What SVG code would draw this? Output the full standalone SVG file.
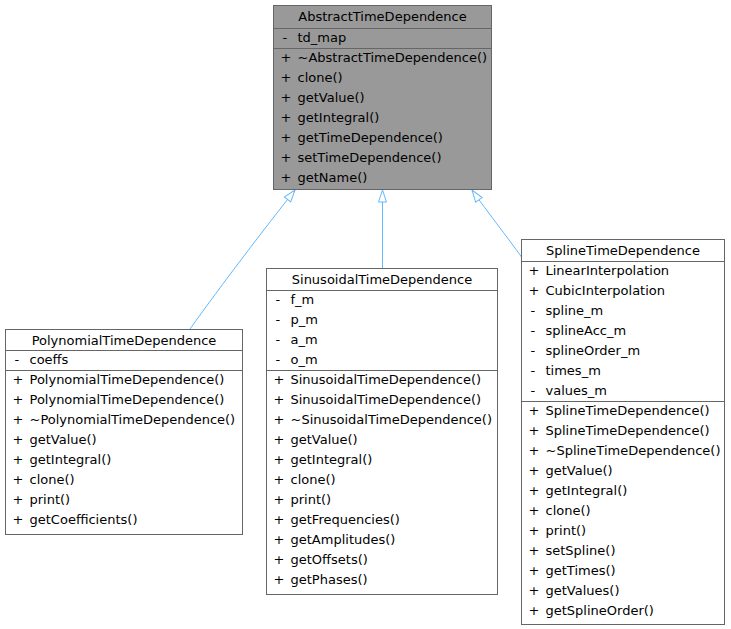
<svg xmlns="http://www.w3.org/2000/svg" width="731" height="629" viewBox="0 0 731 629">
<style>
.box{fill:#ffffff;stroke:#666666;stroke-width:1}
.abs{fill:#999999}
.sep{stroke:#666666;stroke-width:1}
text{font-family:"DejaVu Sans","Liberation Sans",sans-serif;font-size:13px;fill:#000000}
.t{text-anchor:middle}
.edge{fill:none;stroke:#63b8ff;stroke-width:1}
</style>
<defs>
<marker id="inh" markerUnits="userSpaceOnUse" markerWidth="14" markerHeight="10" viewBox="0 0 14 10" refX="13" refY="5" orient="auto">
<path d="M1,1 L13,5 L1,9 z" fill="#ffffff" stroke="#63b8ff" stroke-width="1"/>
</marker>
</defs>
<rect width="731" height="629" fill="#ffffff"/>
<g id="connectors">
<path class="edge" d="M190,329 C222,284 265,228 295,190" marker-end="url(#inh)"/>
<path class="edge" d="M382.5,268.5 L382.5,190" marker-end="url(#inh)"/>
<path class="edge" d="M521.5,257 C508,238 486,210 472,190" marker-end="url(#inh)"/>
</g>
<g id="AbstractTimeDependence">
<rect class="box abs" x="273.5" y="5.5" width="218" height="184"/>
<line class="sep" x1="273.5" y1="28.5" x2="491.5" y2="28.5"/>
<line class="sep" x1="273.5" y1="48.5" x2="491.5" y2="48.5"/>
<text class="t" x="382.5" y="21">AbstractTimeDependence</text>
<text y="42"><tspan x="282.5">-</tspan><tspan x="297.5">td_map</tspan></text>
<text y="62"><tspan x="280.5">+</tspan><tspan x="297.5">~AbstractTimeDependence()</tspan></text>
<text y="82"><tspan x="280.5">+</tspan><tspan x="297.5">clone()</tspan></text>
<text y="102"><tspan x="280.5">+</tspan><tspan x="297.5">getValue()</tspan></text>
<text y="122"><tspan x="280.5">+</tspan><tspan x="297.5">getIntegral()</tspan></text>
<text y="142"><tspan x="280.5">+</tspan><tspan x="297.5">getTimeDependence()</tspan></text>
<text y="162"><tspan x="280.5">+</tspan><tspan x="297.5">setTimeDependence()</tspan></text>
<text y="182"><tspan x="280.5">+</tspan><tspan x="297.5">getName()</tspan></text>
</g>
<g id="PolynomialTimeDependence">
<rect class="box" x="5.5" y="329.5" width="237" height="205"/>
<line class="sep" x1="5.5" y1="350.5" x2="242.5" y2="350.5"/>
<line class="sep" x1="5.5" y1="370.5" x2="242.5" y2="370.5"/>
<text class="t" x="124" y="345">PolynomialTimeDependence</text>
<text y="364"><tspan x="14.5">-</tspan><tspan x="29.5">coeffs</tspan></text>
<text y="384"><tspan x="12.5">+</tspan><tspan x="29.5">PolynomialTimeDependence()</tspan></text>
<text y="404"><tspan x="12.5">+</tspan><tspan x="29.5">PolynomialTimeDependence()</tspan></text>
<text y="424"><tspan x="12.5">+</tspan><tspan x="29.5">~PolynomialTimeDependence()</tspan></text>
<text y="444"><tspan x="12.5">+</tspan><tspan x="29.5">getValue()</tspan></text>
<text y="464"><tspan x="12.5">+</tspan><tspan x="29.5">getIntegral()</tspan></text>
<text y="484"><tspan x="12.5">+</tspan><tspan x="29.5">clone()</tspan></text>
<text y="504"><tspan x="12.5">+</tspan><tspan x="29.5">print()</tspan></text>
<text y="524"><tspan x="12.5">+</tspan><tspan x="29.5">getCoefficients()</tspan></text>
</g>
<g id="SinusoidalTimeDependence">
<rect class="box" x="266.5" y="268.5" width="231" height="326"/>
<line class="sep" x1="266.5" y1="290.5" x2="497.5" y2="290.5"/>
<line class="sep" x1="266.5" y1="370.5" x2="497.5" y2="370.5"/>
<text class="t" x="382" y="284">SinusoidalTimeDependence</text>
<text y="304"><tspan x="275.5">-</tspan><tspan x="290.5">f_m</tspan></text>
<text y="324"><tspan x="275.5">-</tspan><tspan x="290.5">p_m</tspan></text>
<text y="344"><tspan x="275.5">-</tspan><tspan x="290.5">a_m</tspan></text>
<text y="364"><tspan x="275.5">-</tspan><tspan x="290.5">o_m</tspan></text>
<text y="384"><tspan x="273.5">+</tspan><tspan x="290.5">SinusoidalTimeDependence()</tspan></text>
<text y="404"><tspan x="273.5">+</tspan><tspan x="290.5">SinusoidalTimeDependence()</tspan></text>
<text y="424"><tspan x="273.5">+</tspan><tspan x="290.5">~SinusoidalTimeDependence()</tspan></text>
<text y="444"><tspan x="273.5">+</tspan><tspan x="290.5">getValue()</tspan></text>
<text y="464"><tspan x="273.5">+</tspan><tspan x="290.5">getIntegral()</tspan></text>
<text y="484"><tspan x="273.5">+</tspan><tspan x="290.5">clone()</tspan></text>
<text y="504"><tspan x="273.5">+</tspan><tspan x="290.5">print()</tspan></text>
<text y="524"><tspan x="273.5">+</tspan><tspan x="290.5">getFrequencies()</tspan></text>
<text y="544"><tspan x="273.5">+</tspan><tspan x="290.5">getAmplitudes()</tspan></text>
<text y="564"><tspan x="273.5">+</tspan><tspan x="290.5">getOffsets()</tspan></text>
<text y="584"><tspan x="273.5">+</tspan><tspan x="290.5">getPhases()</tspan></text>
</g>
<g id="SplineTimeDependence">
<rect class="box" x="521.5" y="239.5" width="203" height="385"/>
<line class="sep" x1="521.5" y1="261.5" x2="724.5" y2="261.5"/>
<line class="sep" x1="521.5" y1="401.5" x2="724.5" y2="401.5"/>
<text class="t" x="623" y="255">SplineTimeDependence</text>
<text y="275"><tspan x="528.5">+</tspan><tspan x="545.5">LinearInterpolation</tspan></text>
<text y="295"><tspan x="528.5">+</tspan><tspan x="545.5">CubicInterpolation</tspan></text>
<text y="315"><tspan x="530.5">-</tspan><tspan x="545.5">spline_m</tspan></text>
<text y="335"><tspan x="530.5">-</tspan><tspan x="545.5">splineAcc_m</tspan></text>
<text y="355"><tspan x="530.5">-</tspan><tspan x="545.5">splineOrder_m</tspan></text>
<text y="375"><tspan x="530.5">-</tspan><tspan x="545.5">times_m</tspan></text>
<text y="395"><tspan x="530.5">-</tspan><tspan x="545.5">values_m</tspan></text>
<text y="415"><tspan x="528.5">+</tspan><tspan x="545.5">SplineTimeDependence()</tspan></text>
<text y="435"><tspan x="528.5">+</tspan><tspan x="545.5">SplineTimeDependence()</tspan></text>
<text y="455"><tspan x="528.5">+</tspan><tspan x="545.5">~SplineTimeDependence()</tspan></text>
<text y="475"><tspan x="528.5">+</tspan><tspan x="545.5">getValue()</tspan></text>
<text y="495"><tspan x="528.5">+</tspan><tspan x="545.5">getIntegral()</tspan></text>
<text y="515"><tspan x="528.5">+</tspan><tspan x="545.5">clone()</tspan></text>
<text y="535"><tspan x="528.5">+</tspan><tspan x="545.5">print()</tspan></text>
<text y="555"><tspan x="528.5">+</tspan><tspan x="545.5">setSpline()</tspan></text>
<text y="575"><tspan x="528.5">+</tspan><tspan x="545.5">getTimes()</tspan></text>
<text y="595"><tspan x="528.5">+</tspan><tspan x="545.5">getValues()</tspan></text>
<text y="615"><tspan x="528.5">+</tspan><tspan x="545.5">getSplineOrder()</tspan></text>
</g>
</svg>
